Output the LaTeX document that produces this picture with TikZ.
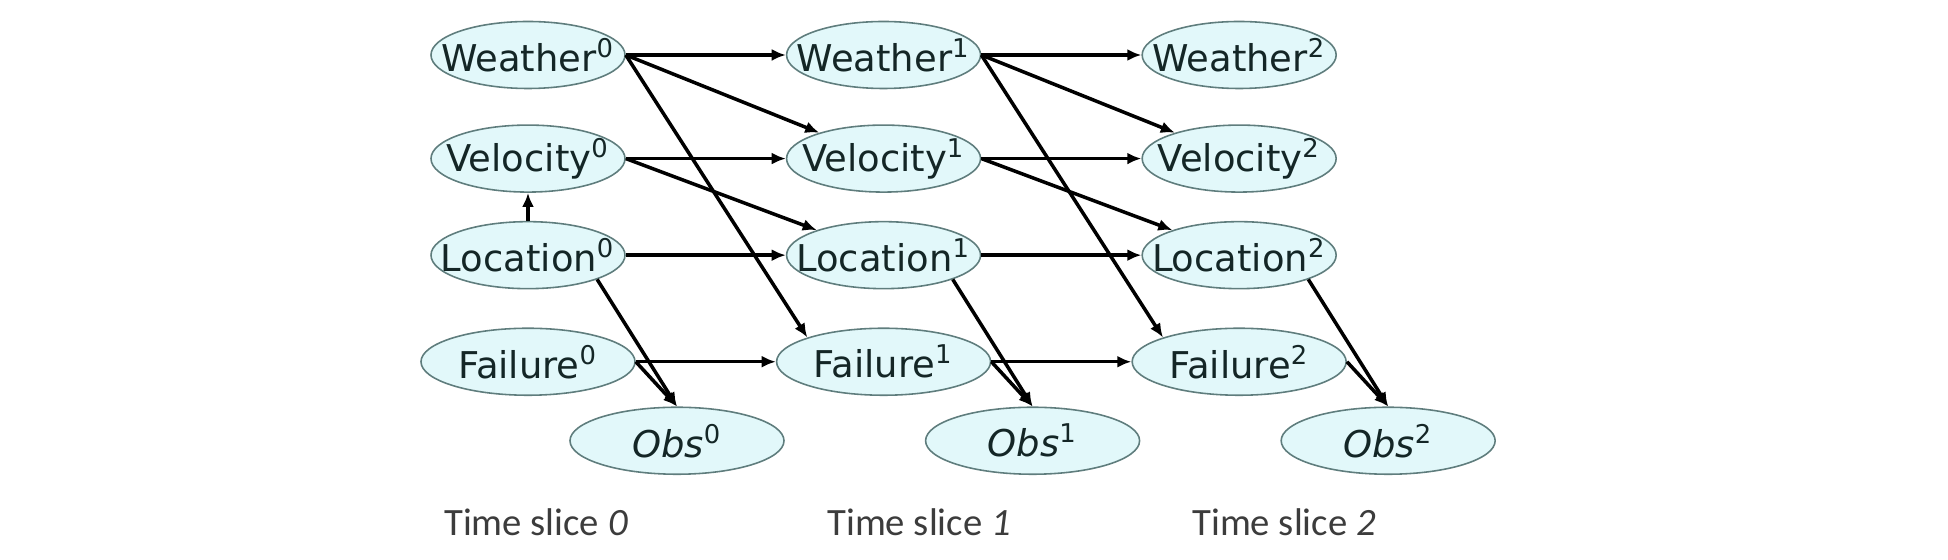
\documentclass[tikz,border=0pt]{standalone}
\usepackage{fontspec}
\newfontfamily\varfont{DejaVu Sans}
\newfontfamily\slicefont{Carlito}
\usetikzlibrary{arrows.meta,shapes.geometric,positioning}
\definecolor{nodefill}{RGB}{226,248,250}
\definecolor{nodeline}{RGB}{95,125,125}
\definecolor{nodetext}{RGB}{20,38,38}
\definecolor{slicetext}{RGB}{60,60,60}
\tikzset{
	>={Latex[length=4pt,width=3.4pt]},
	varnode/.style={
		ellipse,
		draw=nodeline, line width=.45pt,
		fill=nodefill,
		minimum width=1.94cm,
		minimum height=.67cm,
		inner xsep=-6pt, inner ysep=0pt,
		text=nodetext,
		font=\varfont\fontsize{10.5}{12}\selectfont},
	widenode/.style={varnode, minimum width=2.14cm},
	line/.style={draw, line width=1pt, ->},
	slicelabel/.style={text=slicetext, font=\slicefont\fontsize{11}{13}\selectfont},
}

\begin{document}
\begin{tikzpicture}
		[node distance=.35cm and 1.6cm]
	\useasboundingbox (0,0) rectangle (19.48,5.6);
	% time slice 0
	\node[varnode] (w0) at (5.28,5.05) {Weather\textsuperscript{0}};
	\node[varnode, below=of w0] (v0) {Velocity\textsuperscript{0}};
	\node[varnode, below=.28cm of v0] (l0) {Location\textsuperscript{0}};
	\node[widenode, below=.38cm of l0] (f0) {Failure\textsuperscript{0}};
	\node[widenode] (o0) at ([xshift=1.49cm,yshift=-.79cm]f0) {\textit{Obs}\textsuperscript{0}};
	% time slice 1
	\node[varnode, right=of w0] (w1) {Weather\textsuperscript{1}};
	\node[varnode, below=of w1] (v1) {Velocity\textsuperscript{1}};
	\node[varnode, below=.28cm of v1] (l1) {Location\textsuperscript{1}};
	\node[widenode, below=.38cm of l1] (f1) {Failure\textsuperscript{1}};
	\node[widenode] (o1) at ([xshift=1.49cm,yshift=-.79cm]f1) {\textit{Obs}\textsuperscript{1}};
	% time slice 2
	\node[varnode, right=of w1] (w2) {Weather\textsuperscript{2}};
	\node[varnode, below=of w2] (v2) {Velocity\textsuperscript{2}};
	\node[varnode, below=.28cm of v2] (l2) {Location\textsuperscript{2}};
	\node[widenode, below=.38cm of l2] (f2) {Failure\textsuperscript{2}};
	\node[widenode] (o2) at ([xshift=1.49cm,yshift=-.79cm]f2) {\textit{Obs}\textsuperscript{2}};
	% labels
	\node[slicelabel] (t0) at (5.36,.38) {Time slice \textit{0}};
	\node[slicelabel] (t1) at (9.19,.38) {Time slice \textit{1}};
	\node[slicelabel] (t2) at (12.84,.38) {Time slice \textit{2}};
	% within slices
	\path[line] (l0) -- (v0);
	\path[line] (l0.south east) -- (o0.north);
	\path[line] (f0.east) -- (o0.north);
	\path[line] (l1.south east) -- (o1.north);
	\path[line] (f1.east) -- (o1.north);
	\path[line] (l2.south east) -- (o2.north);
	\path[line] (f2.east) -- (o2.north);
	% slice 0 to 1
	\path[line] (w0) -- (w1);
	\path[line] (w0.east) -- (v1);
	\path[line] (w0.east) -- (f1.north west);
	\path[line] (v0) -- (v1);
	\path[line] (v0.east) -- (l1);
	\path[line] (l0) -- (l1);
	\path[line] (f0) -- (f1);
	% slice 1 to 2
	\path[line] (w1) -- (w2);
	\path[line] (w1.east) -- (v2);
	\path[line] (w1.east) -- (f2.north west);
	\path[line] (v1) -- (v2);
	\path[line] (v1.east) -- (l2);
	\path[line] (l1) -- (l2);
	\path[line] (f1) -- (f2);
\end{tikzpicture}
\end{document}
